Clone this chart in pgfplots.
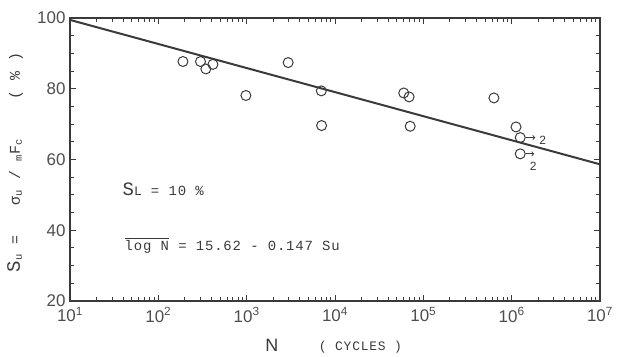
\documentclass[border=0pt]{standalone}
\usepackage{pgfplots}
\pgfplotsset{compat=1.18}
\usepackage{fontspec}
\setmainfont{Liberation Sans}
\setmonofont{Liberation Mono}
\newfontfamily\tw[LetterSpace=6]{Liberation Mono}
\definecolor{ink}{HTML}{3A3A3A}
\pgfplotstableread{
N Su
190 87.7
300 87.7
345 85.6
415 86.9
980 78.1
2950 87.4
7000 79.4
7050 69.6
60000 78.8
69000 77.7
71000 69.4
630000 77.4
1120000 69.2
1250000 66.2
1250000 61.6
}\pts
\begin{document}
\begin{tikzpicture}
\begin{axis}[
  xmode=log, xmin=10, xmax=1e7, ymin=20, ymax=100,
  scale only axis, width=530bp, height=283bp,
  xtick={10,100,1000,10000,100000,1000000,10000000},
  xticklabels={10\textsuperscript{1},10\textsuperscript{2},10\textsuperscript{3},10\textsuperscript{4},10\textsuperscript{5},10\textsuperscript{6},10\textsuperscript{7}},
  ytick={20,40,60,80,100}, yticklabels={20,40,60,80,100},
  minor ytick={25,30,35,45,50,55,65,70,75,85,90,95},
  tick align=inside,
  major tick length=6bp, minor tick length=4bp,
  every tick/.style={ink, line width=1pt},
  axis line style={ink, line width=1.5pt},
  every tick label/.append style={font=\fontsize{17}{20}\selectfont, text=ink!90},
  xticklabel style={yshift=-3bp},
  yticklabel style={xshift=-1bp},
  clip=false,
]
\addplot[ink, line width=2pt, no marks] coordinates {(10,99.46) (1e7,58.64)};
\addplot[only marks, mark=o, mark size=5bp, mark options={ink, line width=1pt, fill=white}] table[x=N,y=Su] {\pts};
\draw[->, ink, line width=0.9pt] (axis cs:1.45e6,66.2) -- (axis cs:1.85e6,66.2);
\node[font=\fontsize{12}{13}\selectfont, text=ink] at (axis cs:2.25e6,65.4) {2};
\draw[->, ink, line width=0.9pt] (axis cs:1.45e6,61.6) -- (axis cs:1.8e6,61.6);
\node[font=\fontsize{12}{13}\selectfont, text=ink] at (axis cs:1.75e6,58.0) {2};
\node[anchor=west, font=\tw\fontsize{14}{16}\selectfont, text=ink] at (axis cs:36,51.7) {{\fontsize{19}{20}\selectfont S}{\fontsize{13}{14}\selectfont L} = 10 \%};
\node[anchor=west, font=\tw\fontsize{14}{16}\selectfont, text=ink] at (axis cs:38,35.7) {$\overline{\mbox{\tw\fontsize{14}{16}\selectfont log N}}$ = 15.62 - 0.147 Su};
\node[font=\fontsize{18}{20}\selectfont, text=ink] at ([yshift=-44bp]rel axis cs:0.381,0) {N};
\node[font=\tw\fontsize{13}{15}\selectfont, text=ink] at ([yshift=-46bp]rel axis cs:0.548,0) {( CYCLES )};
\node[rotate=90, font=\tw\fontsize{15}{17}\selectfont, text=ink] at ([xshift=-55bp]rel axis cs:0,0.49) {{\fontsize{19}{20}\selectfont S}\textsubscript{u} = \ \ σ\textsubscript{u} / \textsubscript{m}F\textsubscript{c} \ \ \ ( \% )};
\end{axis}
\path (0,0) ++(-70bp,-54bp) coordinate (bl);
\path (530bp,283bp) ++(26bp,18bp) coordinate (tr);
\useasboundingbox (bl) rectangle (tr);
\end{tikzpicture}
\end{document}
